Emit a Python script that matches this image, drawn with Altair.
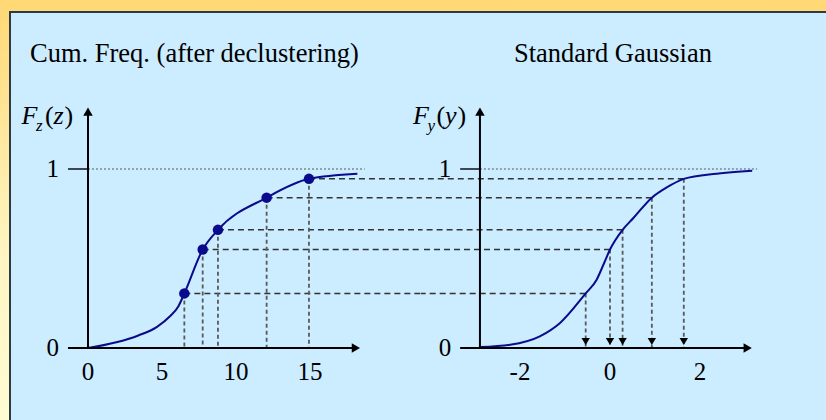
import altair as alt
import pandas as pd

# Declustered cumulative frequency F_z(z)
z_curve = [0.0, 3.4, 4.64, 5.54, 6.1, 6.51, 7.75, 8.78, 12.07, 14.93, 18.2]
Fz_curve = [0.0, 0.07, 0.117, 0.177, 0.232, 0.305, 0.55, 0.66, 0.84, 0.945, 0.974]

# Standard Gaussian cdf F_y(y)
y_curve = [-2.89, -2.22, -1.56, -1.11, -0.54, -0.30, -0.13, 0.0, 0.28, 0.52,
           0.93, 1.26, 1.64, 2.37, 3.16]
Fy_curve = [0.005, 0.018, 0.065, 0.14, 0.305, 0.38, 0.475, 0.55, 0.66, 0.726,
            0.84, 0.897, 0.945, 0.974, 0.99]

# Data quantiles and the normal scores they map to
z_quant = [6.51, 7.75, 8.78, 12.07, 14.93]
F_quant = [0.305, 0.55, 0.66, 0.84, 0.945]
y_quant = [-0.54, 0.0, 0.28, 0.93, 1.64]

# Tick labels
z_ticks = [0, 5, 10, 15]
y_ticks = [-2, 0, 2]
F_ticks = [0, 1]

SERIF = "Liberation Serif"
NAVY = "#0A0A8C"
W, H = 826, 420

# Shared probability scale, and one x scale per panel; the two x scales
# meet at the same pixel so the connectors join up between the panels.
F_DOM = [0, 1]
Z_DOM = [0, 22.5]
G_DOM = [-4.2, 3.6]
F_SCALE = alt.Scale(domain=F_DOM, range=[348, 169], nice=False, zero=False)
Z_SCALE = alt.Scale(domain=Z_DOM, range=[88, 421], nice=False, zero=False)
G_SCALE = alt.Scale(domain=G_DOM, range=[421, 772], nice=False, zero=False)

ONE = alt.Data(values=[{}])


def fy(field=None, datum=None):
    if field is not None:
        return alt.Y(field, type="quantitative", scale=F_SCALE, axis=None)
    return alt.YDatum(datum, scale=F_SCALE, axis=None)


def fx(scale, field=None, datum=None):
    if field is not None:
        return alt.X(field, type="quantitative", scale=scale, axis=None)
    return alt.XDatum(datum, scale=scale, axis=None)


def text(t, x, y, size, style="normal", align="left"):
    return alt.Chart(ONE).mark_text(
        text=t, font=SERIF, fontSize=size, fontStyle=style, align=align,
        baseline="alphabetic", color="black",
    ).encode(x=alt.value(x), y=alt.value(y))


def func_label(var, x0):
    # F with a subscript, followed by (var)
    var_w = 10.5 if var == "z" else 12
    return [
        text("F", x0, 124, 26, "italic"),
        text(var, x0 + 14.5, 131, 17, "italic"),
        text("(", x0 + 23.5, 124, 26),
        text(var, x0 + 32, 124, 26, "italic"),
        text(")", x0 + 32.5 + var_w, 124, 26),
    ]


def panel_axes(scale, x_axis, x_start, x_end, ref_end, ticks):
    """Arrowed axes, the dotted F = 1 guide and the tick labels of one panel."""
    layers = []
    # F = 1 guide: short solid tick, then a thin dotted line
    layers.append(alt.Chart(ONE).mark_rule(color="black", strokeWidth=1.4).encode(
        x=fx(scale, datum=x_start), x2=alt.X2Datum(x_axis), y=fy(datum=1)))
    layers.append(alt.Chart(ONE).mark_rule(color="#4A4A4A", strokeWidth=0.9,
                                           strokeDash=[2, 2]).encode(
        x=fx(scale, datum=x_axis), x2=alt.X2Datum(ref_end), y=fy(datum=1)))
    # horizontal axis with arrow
    layers.append(alt.Chart(ONE).mark_rule(color="black", strokeWidth=2).encode(
        x=fx(scale, datum=x_start), x2=alt.X2Datum(x_end), y=fy(datum=0)))
    layers.append(alt.Chart(ONE).mark_point(shape="triangle-right", filled=True,
                                            size=90, color="black", opacity=1).encode(
        x=fx(scale, datum=x_end), y=fy(datum=0)))
    # vertical axis with arrow
    layers.append(alt.Chart(ONE).mark_rule(color="black", strokeWidth=2).encode(
        x=fx(scale, datum=x_axis), y=fy(datum=0), y2=alt.Y2Datum(1.32)))
    layers.append(alt.Chart(ONE).mark_point(shape="triangle-up", filled=True,
                                            size=90, color="black", opacity=1).encode(
        x=fx(scale, datum=x_axis), y=fy(datum=1.32)))
    # x tick labels
    tdf = pd.DataFrame({"v": ticks, "lab": [str(t) for t in ticks]})
    layers.append(alt.Chart(tdf).mark_text(font=SERIF, fontSize=25, dy=32,
                                           baseline="alphabetic", color="black").encode(
        x=fx(scale, field="v"), y=fy(datum=0), text="lab:N"))
    # F labels 0 and 1
    fdf = pd.DataFrame({"v": F_ticks, "lab": [str(t) for t in F_ticks]})
    layers.append(alt.Chart(fdf).mark_text(font=SERIF, fontSize=25, dx=-9,
                                           align="right", baseline="middle",
                                           color="black").encode(
        x=fx(scale, datum=x_start), y=fy(field="v"), text="lab:N"))
    return layers


quant = pd.DataFrame({"z": z_quant, "F": F_quant, "y": y_quant})
left_curve = pd.DataFrame({"z": z_curve, "F": Fz_curve})
right_curve = pd.DataFrame({"y": y_curve, "F": Fy_curve})

# ---- left panel: cumulative frequency of z
left_layers = [
    alt.Chart(quant).mark_rule(color="#333333", strokeWidth=1.5, strokeDash=[6, 4]).encode(
        x=fx(Z_SCALE, field="z"), x2=alt.X2Datum(Z_DOM[1]), y=fy(field="F")),
    alt.Chart(quant).mark_rule(color="#5A5A5A", strokeWidth=1.8, strokeDash=[4, 3]).encode(
        x=fx(Z_SCALE, field="z"), y=fy(field="F"), y2=alt.Y2Datum(0)),
    alt.Chart(left_curve).mark_line(color=NAVY, strokeWidth=2, interpolate="monotone").encode(
        x=fx(Z_SCALE, field="z"), y=fy(field="F"), order="z:Q"),
    alt.Chart(quant).mark_circle(color=NAVY, size=110, opacity=1).encode(
        x=fx(Z_SCALE, field="z"), y=fy(field="F")),
] + panel_axes(Z_SCALE, 0, -1.35, 18.1, 18.7, z_ticks)

# ---- right panel: standard Gaussian cdf of y
right_layers = [
    alt.Chart(quant).mark_rule(color="#333333", strokeWidth=1.5, strokeDash=[6, 4]).encode(
        x=fx(G_SCALE, field="y"), x2=alt.X2Datum(G_DOM[0]), y=fy(field="F")),
    alt.Chart(quant).mark_rule(color="#5A5A5A", strokeWidth=1.8, strokeDash=[4, 3]).encode(
        x=fx(G_SCALE, field="y"), y=fy(field="F"), y2=alt.Y2Datum(0)),
    alt.Chart(quant).mark_point(shape="triangle-down", filled=True, size=70,
                                color="black", opacity=1, yOffset=-6.5).encode(
        x=fx(G_SCALE, field="y"), y=fy(datum=0)),
    alt.Chart(right_curve).mark_line(color=NAVY, strokeWidth=2, interpolate="monotone").encode(
        x=fx(G_SCALE, field="y"), y=fy(field="F"), order="y:Q"),
] + panel_axes(G_SCALE, -2.89, -3.33, 3.06, 3.27, y_ticks)

# ---- slide background and titles
frame = alt.Chart(ONE).mark_rect(
    color=alt.Gradient(
        gradient="linear",
        stops=[alt.GradientStop(color="#FFD874", offset=0),
               alt.GradientStop(color="#FFF5C2", offset=0.6),
               alt.GradientStop(color="#FFFCD2", offset=1)],
        x1=0, y1=0, x2=0, y2=1,
    )
).encode(x=alt.value(0), x2=alt.value(W), y=alt.value(0), y2=alt.value(H))

sheet = alt.Chart(ONE).mark_rect(fill="#CCECFF", stroke="#2F3A44", strokeWidth=2).encode(
    x=alt.value(10), x2=alt.value(W + 20), y=alt.value(12), y2=alt.value(H + 20))

titles = [
    text("Cum. Freq. (after declustering)", 30, 62, 26.5),
    text("Standard Gaussian", 514, 62, 26.5),
] + func_label("z", 21.5) + func_label("y", 413)

left = alt.layer(*left_layers)
right = alt.layer(*right_layers)

chart = alt.layer(frame, sheet, *titles, left, right).resolve_scale(
    x="independent"
).properties(
    width=W, height=H, padding=0, autosize="none",
).configure_view(stroke=None).configure(background="#FFD874")

chart.save("out.html", embed_options={"renderer": "svg", "actions": False})
